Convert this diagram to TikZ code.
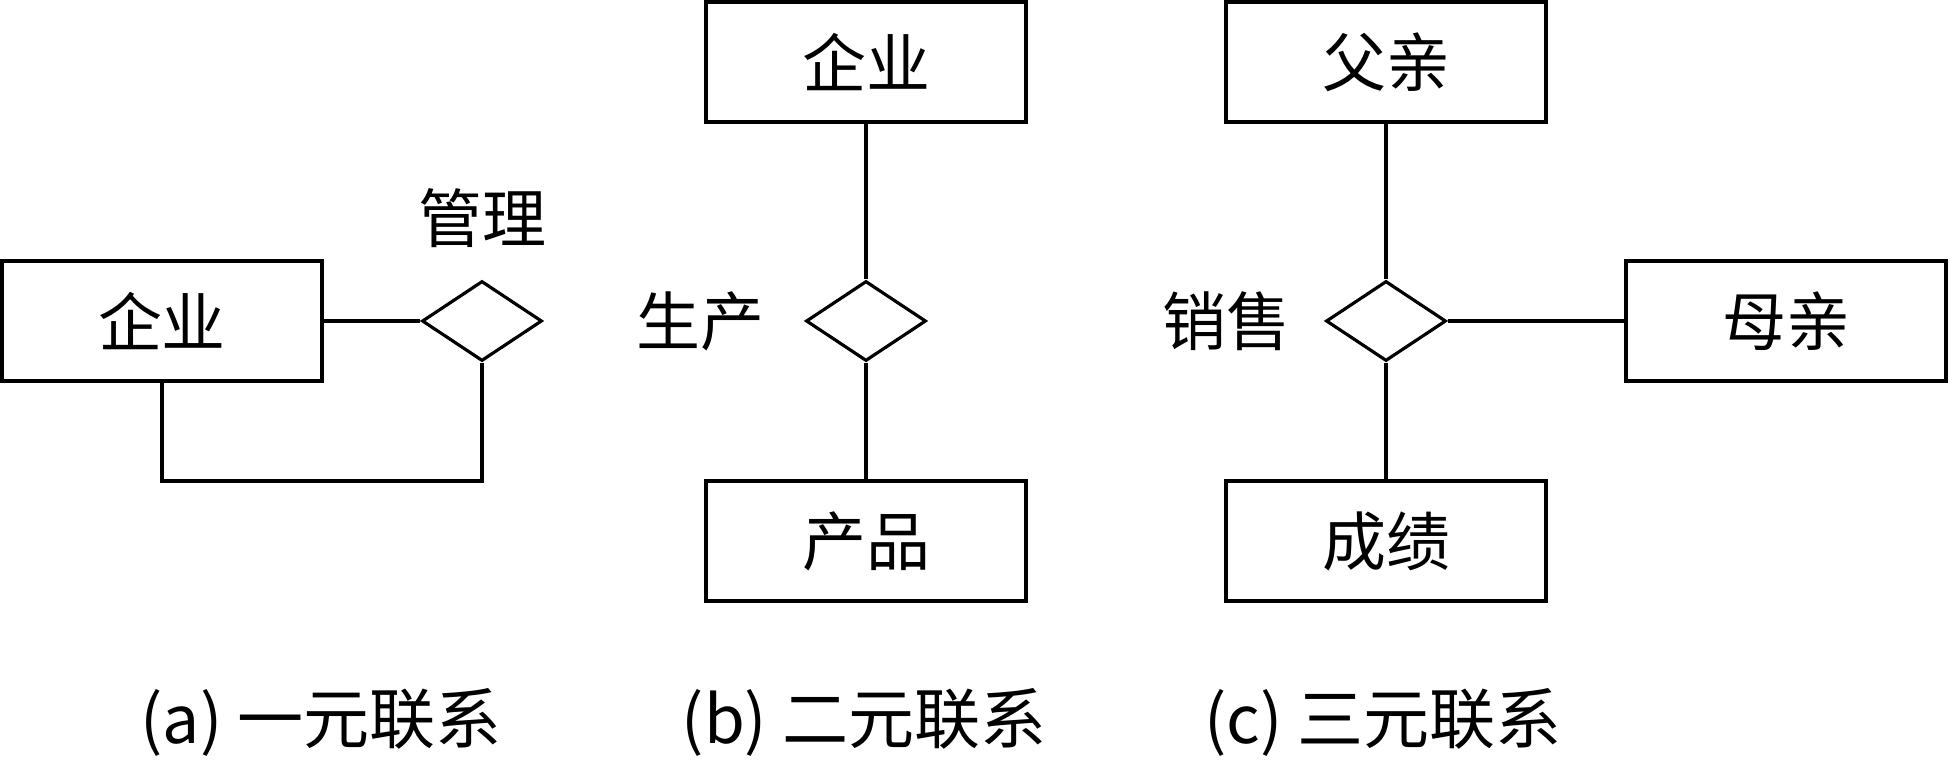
\documentclass[tikz,border=0pt]{standalone}
\usepackage{fontspec}
\setmainfont{Noto Sans CJK SC}
\usetikzlibrary{shapes.geometric}
\begin{document}
\begin{tikzpicture}[line width=0.9pt,
  every node/.style={font=\fontsize{18.2}{21}\selectfont},
  entity/.style={draw,minimum width=3.2cm,minimum height=1.2cm,inner sep=0pt},
  rel/.style={draw,diamond,minimum width=1.2cm,minimum height=0.8cm,inner sep=0pt},
  caption/.style={font=\fontsize{18.8}{22}\selectfont}]
\useasboundingbox (0,0) rectangle (19.52,7.64);
% (a) unary
\node[entity] (ea) at (1.62,4.43) {企业};
\node[rel] (ra) at (4.82,4.43) {};
\node (la) at (4.82,5.46) {管理};
\coordinate (loopa) at (4.82,2.83);
\draw (ea) -- (ra);
\draw (ea.south) |- (loopa) -- (ra.south);
% (b) binary
\node[entity] (eb1) at (8.66,7.02) {企业};
\node[rel] (rb) at (8.66,4.43) {};
\node (lb) at (7.00,4.43) {生产};
\node[entity] (eb2) at (8.66,2.23) {产品};
\draw (eb1) -- (rb) -- (eb2);
% (c) ternary
\node[entity] (ec1) at (13.86,7.02) {父亲};
\node[rel] (rc) at (13.86,4.43) {};
\node (lc) at (12.26,4.43) {销售};
\node[entity] (ec2) at (17.86,4.43) {母亲};
\node[entity] (ec3) at (13.86,2.23) {成绩};
\draw (ec1) -- (rc) -- (ec3);
\draw (rc) -- (ec2);
% captions
\node[caption] (capa) at (3.21,0.42) {(a) 一元联系};
\node[caption] (capb) at (8.64,0.42) {(b) 二元联系};
\node[caption] (capc) at (13.83,0.42) {(c) 三元联系};
\end{tikzpicture}
\end{document}
